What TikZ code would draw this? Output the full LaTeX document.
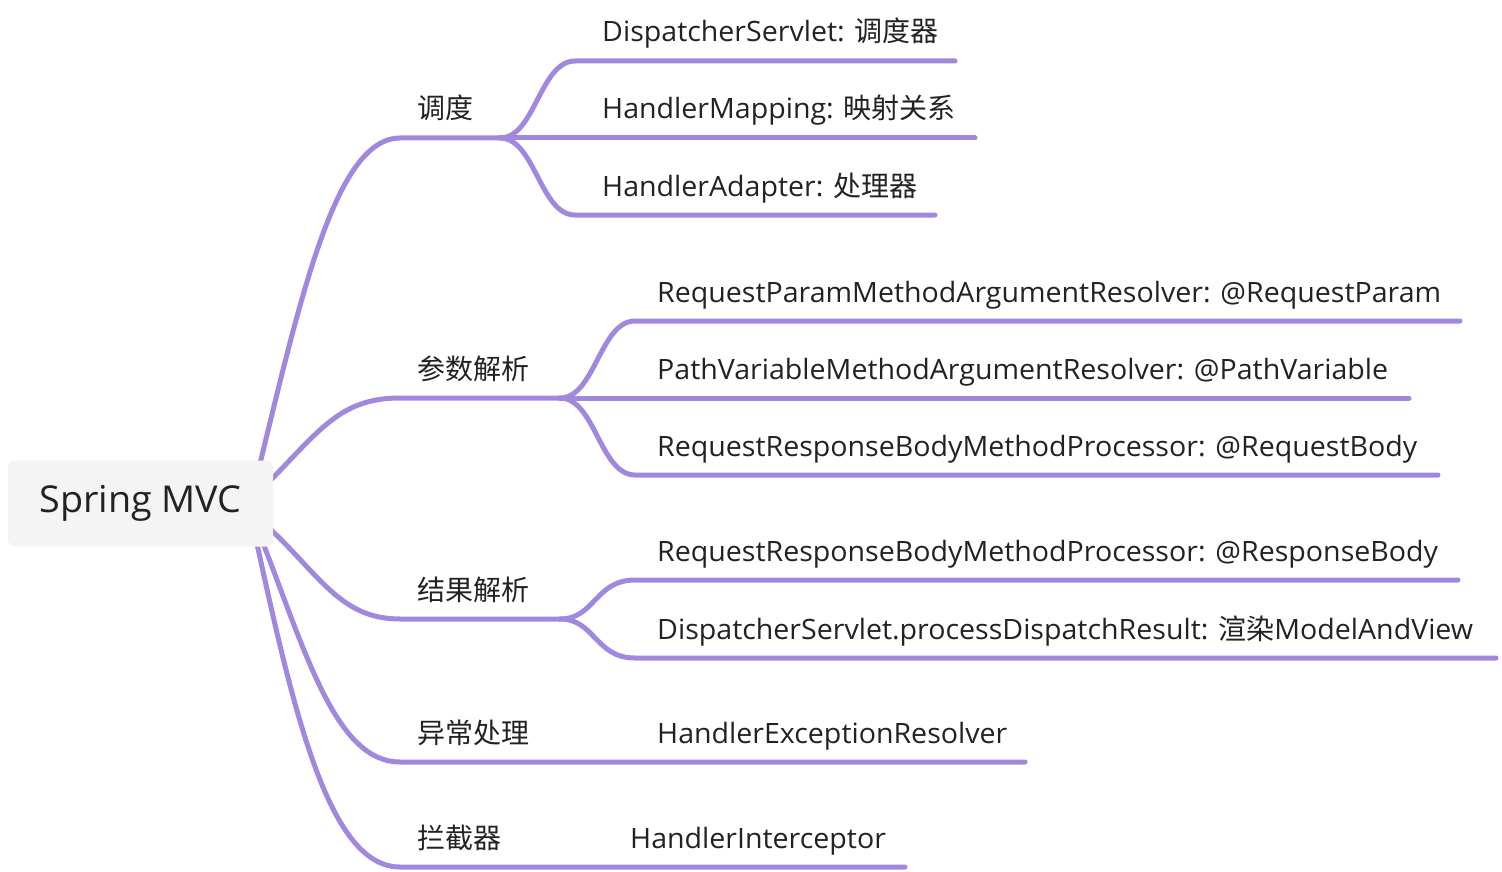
\documentclass[tikz,border=0pt]{standalone}
\usepackage{fontspec}
\setmainfont{Open Sans}[FakeStretch=1.02]
\newfontfamily\cjk{Noto Sans CJK SC}
\definecolor{branch}{RGB}{161,136,222}
\definecolor{ink}{RGB}{34,34,34}
\definecolor{rootfill}{RGB}{244,244,244}
\tikzset{
  br/.style={draw=branch, line width=5pt, line cap=round},
  lbl/.style={anchor=base west, inner sep=0pt, text=ink, font=\fontsize{28}{31}\selectfont},
  rootbox/.style={fill=rootfill, rounded corners=7pt, minimum width=265pt, minimum height=86pt, inner sep=0pt, text=ink, font=\fontsize{37}{44}\selectfont}
}
\begin{document}
\begin{tikzpicture}[x=1pt,y=-1pt]
\useasboundingbox (0,0) rectangle (1502,872);
% coordinates
\coordinate (sA) at (256,480);
\coordinate (sB) at (266,485);
\coordinate (sC) at (266,525);
\coordinate (sD) at (258,530);
\coordinate (sE) at (254,530);
% level-1 junctions
\coordinate (jA) at (500,138);
\coordinate (jB) at (560,398);
\coordinate (jC) at (560,619);
\coordinate (eD) at (1025,762);
\coordinate (eE) at (905,867);
% child ends
\coordinate (eA1) at (955,61);
\coordinate (eA2) at (975,138);
\coordinate (eA3) at (935,215);
\coordinate (eB1) at (1460,321);
\coordinate (eB2) at (1409,398);
\coordinate (eB3) at (1438,475);
\coordinate (eC1) at (1458,580);
\coordinate (eC2) at (1496,658);

% level-1 branches
\draw[br] (sA) .. controls (300,300) and (335,138) .. (400,138) -- (jA);
\draw[br] (sB) .. controls (320,430) and (340,398) .. (400,398) -- (jB);
\draw[br] (sC) .. controls (320,575) and (340,619) .. (400,619) -- (jC);
\draw[br] (sD) .. controls (305,650) and (335,762) .. (400,762) -- (eD);
\draw[br] (sE) .. controls (295,720) and (330,867) .. (400,867) -- (eE);

% children of A
\draw[br] (jA) .. controls (535,138) and (540,61) .. (575,61) -- (eA1);
\draw[br] (jA) -- (eA2);
\draw[br] (jA) .. controls (535,138) and (540,215) .. (575,215) -- (eA3);
% children of B
\draw[br] (jB) .. controls (595,398) and (600,321) .. (635,321) -- (eB1);
\draw[br] (jB) -- (eB2);
\draw[br] (jB) .. controls (595,398) and (600,475) .. (635,475) -- (eB3);
% children of C
\draw[br] (jC) .. controls (595,619) and (595,580) .. (635,580) -- (eC1);
\draw[br] (jC) .. controls (595,619) and (595,658) .. (635,658) -- (eC2);

% root
\node[rootbox] (root) at (140.5,503.5) {Spring MVC};

% level-1 labels
\node[lbl] (lA) at (417,119) {\cjk 调度};
\node[lbl] (lB) at (417,379) {\cjk 参数解析};
\node[lbl] (lC) at (417,600) {\cjk 结果解析};
\node[lbl] (lD) at (417,743) {\cjk 异常处理};
\node[lbl] (lE) at (417,848) {\cjk 拦截器};

% level-2 labels
\node[lbl] (tA1) at (602,42) {DispatcherServlet: {\cjk 调度器}};
\node[lbl] (tA2) at (602,119) {HandlerMapping: {\cjk 映射关系}};
\node[lbl] (tA3) at (602,196) {HandlerAdapter: {\cjk 处理器}};
\node[lbl] (tB1) at (657,302) {RequestParamMethodArgumentResolver: @RequestParam};
\node[lbl] (tB2) at (657,379) {PathVariableMethodArgumentResolver: @PathVariable};
\node[lbl] (tB3) at (657,456) {RequestResponseBodyMethodProcessor: @RequestBody};
\node[lbl] (tC1) at (657,561) {RequestResponseBodyMethodProcessor: @ResponseBody};
\node[lbl] (tC2) at (657,639) {DispatcherServlet.processDispatchResult: {\cjk 渲染}ModelAndView};
\node[lbl] (tD1) at (657,743) {HandlerExceptionResolver};
\node[lbl] (tE1) at (630,848) {HandlerInterceptor};
\end{tikzpicture}
\end{document}
